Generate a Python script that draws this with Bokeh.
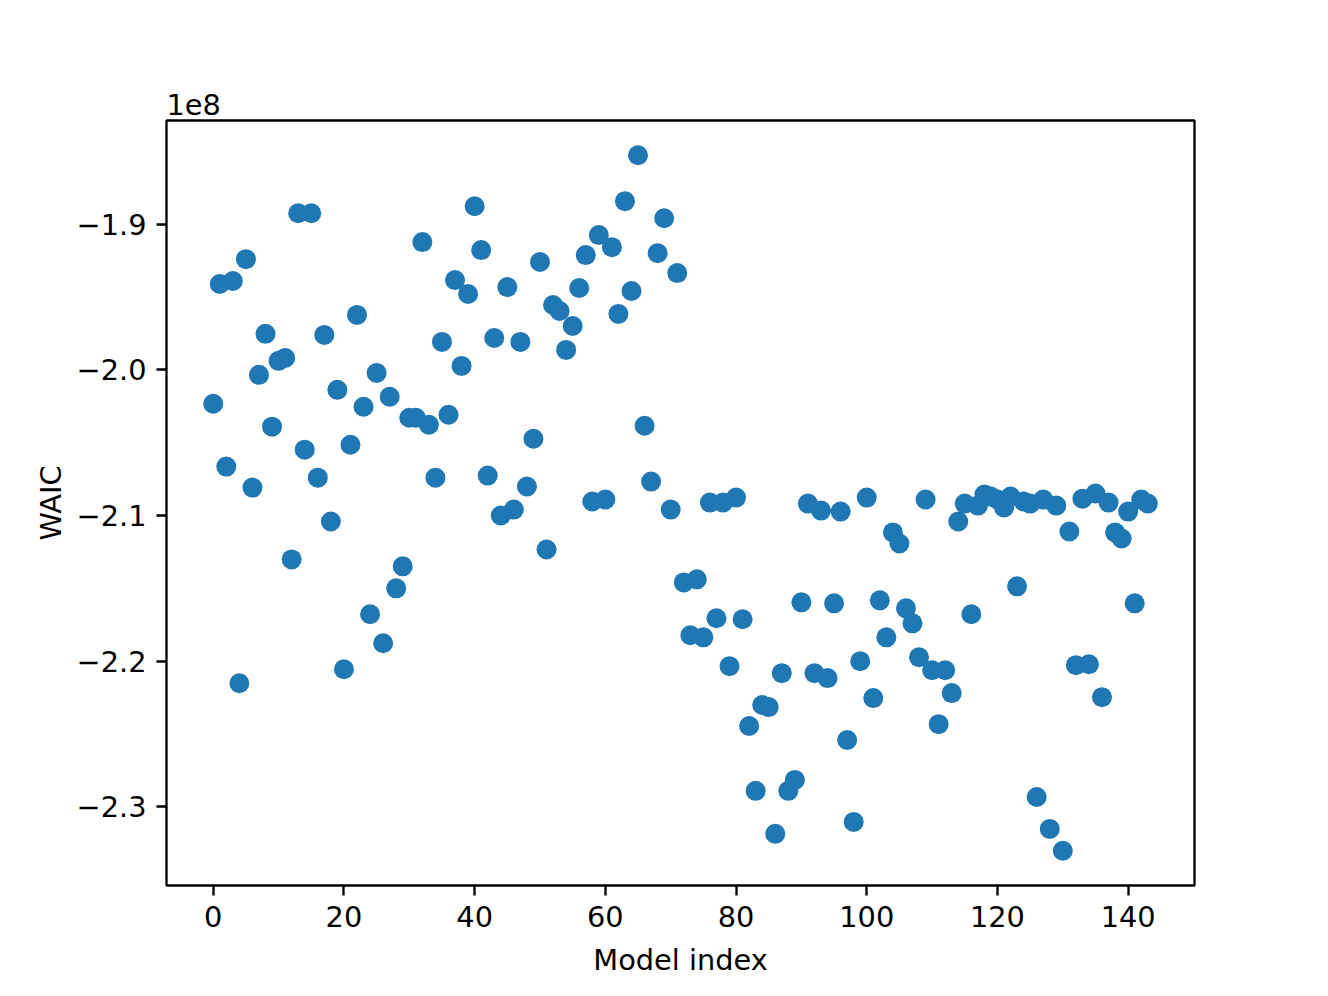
from bokeh.plotting import figure
from bokeh.models import FixedTicker, CustomJSTickFormatter, Range1d, Title
from bokeh.embed import file_html
from bokeh.resources import INLINE

# Model index 0..143
model_index = list(range(144))

# WAIC values (units of 1e8)
waic_e8 = [
    -2.0233, -1.9411, -2.0664, -1.9390, -2.2151, -1.9240, -2.0808, -2.0034, -1.9753, -2.0390,
    -1.9938, -1.9918, -2.1301, -1.8925, -2.0548, -1.8925, -2.0740, -1.9760, -2.1041, -2.0137,
    -2.2055, -2.0514, -1.9623, -2.0253, -2.1678, -2.0021, -2.1877, -2.0185, -2.1500, -2.1349,
    -2.0329, -2.0329, -1.9123, -2.0377, -2.0740, -1.9808, -2.0308, -1.9384, -1.9973, -1.9479,
    -1.8877, -1.9178, -2.0726, -1.9781, -2.1000, -1.9432, -2.0959, -1.9808, -2.0801, -2.0473,
    -1.9260, -2.1233, -1.9555, -1.9596, -1.9863, -1.9699, -1.9438, -1.9212, -2.0904, -1.9075,
    -2.0890, -1.9158, -1.9616, -1.8842, -1.9459, -1.8527, -2.0384, -2.0767, -1.9199, -1.8959,
    -2.0959, -1.9336, -2.1459, -2.1822, -2.1438, -2.1836, -2.0911, -2.1705, -2.0911, -2.2034,
    -2.0877, -2.1712, -2.2445, -2.2890, -2.2301, -2.2315, -2.3185, -2.2082, -2.2890, -2.2815,
    -2.1596, -2.0918, -2.2082, -2.0966, -2.2116, -2.1603, -2.0973, -2.2541, -2.3103, -2.2000,
    -2.0877, -2.2253, -2.1582, -2.1836, -2.1116, -2.1192, -2.1637, -2.1740, -2.1973, -2.0890,
    -2.2062, -2.2432, -2.2062, -2.2219, -2.1041, -2.0918, -2.1678, -2.0932, -2.0856, -2.0870,
    -2.0890, -2.0945, -2.0870, -2.1486, -2.0904, -2.0918, -2.2932, -2.0890, -2.3151, -2.0932,
    -2.3301, -2.1110, -2.2027, -2.0884, -2.2021, -2.0849, -2.2247, -2.0911, -2.1116, -2.1158,
    -2.0973, -2.1603, -2.0890, -2.0918,
]
waic = [v * 1e8 for v in waic_e8]

x_ticks = [0, 20, 40, 60, 80, 100, 120, 140]
y_ticks = [-2.3e8, -2.2e8, -2.1e8, -2.0e8, -1.9e8]

FONT = "DejaVu Sans"
FS = "28.8px"
BLUE = "#1f77b4"

xmin, xmax = min(model_index), max(model_index)
ymin, ymax = min(waic), max(waic)
xpad = (xmax - xmin) * 0.05
ypad = (ymax - ymin) * 0.05

p = figure(
    output_backend="svg", toolbar_location=None,
    frame_width=1028, frame_height=765,
    min_border_left=166, min_border_right=126,
    min_border_top=120, min_border_bottom=103,
    x_range=Range1d(xmin - xpad, xmax + xpad),
    y_range=Range1d(ymin - ypad, ymax + ypad),
    background_fill_color="white", border_fill_color="white",
)

p.scatter(model_index, waic, size=20, fill_color=BLUE, line_color=None)

p.xgrid.visible = False
p.ygrid.visible = False
p.outline_line_color = "black"
p.outline_line_width = 2.3
p.outline_line_alpha = 1.0

for ax in (p.xaxis[0], p.yaxis[0]):
    ax.axis_line_color = None
    ax.major_tick_line_color = "black"
    ax.major_tick_line_width = 2.3
    ax.major_tick_out = 10
    ax.major_tick_in = 0
    ax.minor_tick_line_color = None
    ax.major_label_text_font = FONT
    ax.major_label_text_font_size = FS
    ax.major_label_text_color = "black"
    ax.axis_label_text_font = FONT
    ax.axis_label_text_font_size = FS
    ax.axis_label_text_font_style = "normal"
    ax.axis_label_text_color = "black"

p.xaxis.ticker = FixedTicker(ticks=x_ticks)
p.yaxis.ticker = FixedTicker(ticks=y_ticks)
p.yaxis.formatter = CustomJSTickFormatter(
    code="return (tick/1e8).toFixed(1).replace('-', '\\u2212');")
p.xaxis.major_label_standoff = 10
p.yaxis.major_label_standoff = 10
p.xaxis.axis_label = "Model index"
p.yaxis.axis_label = "WAIC"
p.xaxis.axis_label_standoff = 13
p.yaxis.axis_label_standoff = 6

offset_title = Title(
    text="1e8", align="left", text_font=FONT, text_font_size=FS,
    text_font_style="normal", text_color="black", standoff=11, offset=0,
)
p.add_layout(offset_title, "above")

open("out.html", "w").write(file_html(p, INLINE))
